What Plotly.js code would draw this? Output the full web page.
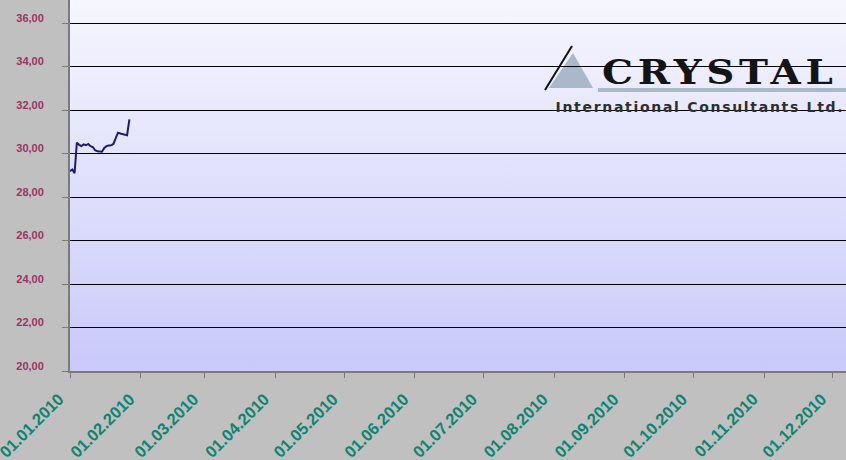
<!DOCTYPE html>
<html><head><meta charset="utf-8">
<script src="https://cdn.plot.ly/plotly-3.0.1.min.js"></script>
<style>
html,body{margin:0;padding:0;background:#c0c0c0;}
#chart{width:846px;height:460px;background:linear-gradient(to bottom,#f6f6fe,#c9c9fa) 70px 0/776px 371px no-repeat,#c0c0c0;}
g.annotation[data-index="0"] text{letter-spacing:4px;transform-box:fill-box;transform-origin:center;transform:scaleX(1.18);}
g.annotation[data-index="1"] text{letter-spacing:1.7px;}
</style></head><body><div id="chart"></div><script>
// Daily rate, January 2010
const dates = ['2010-01-01','2010-01-02','2010-01-03','2010-01-04','2010-01-05','2010-01-06','2010-01-07','2010-01-08','2010-01-09','2010-01-10','2010-01-11','2010-01-12','2010-01-13','2010-01-14','2010-01-15','2010-01-16','2010-01-17','2010-01-18','2010-01-19','2010-01-20','2010-01-21','2010-01-22','2010-01-23','2010-01-24','2010-01-25','2010-01-26','2010-01-27'];
const rates = [29.18,29.27,29.10,30.50,30.40,30.34,30.42,30.38,30.44,30.34,30.30,30.15,30.10,30.10,30.08,30.26,30.34,30.37,30.38,30.44,30.68,30.96,30.92,30.89,30.87,30.84,31.57];

const xTickVals = ['2010-01-01','2010-02-01','2010-03-01','2010-04-01','2010-05-01','2010-06-01','2010-07-01','2010-08-01','2010-09-01','2010-10-01','2010-11-01','2010-12-01'];
const xTickLabels = ['01.01.2010','01.02.2010','01.03.2010','01.04.2010','01.05.2010','01.06.2010','01.07.2010','01.08.2010','01.09.2010','01.10.2010','01.11.2010','01.12.2010'];
const yTickVals = [20,22,24,26,28,30,32,34,36];
const yTickLabels = ['20,00','22,00','24,00','26,00','28,00','30,00','32,00','34,00','36,00'];

const logoTitle = 'CRYSTAL';
const logoSubtitle = 'International Consultants Ltd.';

// plot-area pixel -> paper helpers (plot area: x 70..846, y 0..371)
const PX0 = 70, PW = 776, PH = 371;
const px = x => (x - PX0) / PW;
const py = y => (PH - y) / PH;

const trace = {
  x: dates, y: rates, type: 'scatter', mode: 'lines',
  line: {color: '#1c1c6e', width: 2},
  hoverinfo: 'skip'
};

const layout = {
  width: 846, height: 460,
  margin: {l: 70, r: 0, t: 0, b: 89, pad: 0},
  paper_bgcolor: 'rgba(0,0,0,0)',
  plot_bgcolor: 'rgba(0,0,0,0)',
  showlegend: false,
  font: {family: 'Liberation Sans, Arial, sans-serif'},
  xaxis: {
    type: 'date',
    range: ['2010-01-01', '2010-12-06 19:00'],
    tickmode: 'array', tickvals: xTickVals, ticktext: xTickLabels,
    tickangle: -45,
    tickfont: {size: 16.5, color: '#0f8474', weight: 'bold', family: 'Liberation Sans, Arial, sans-serif'},
    ticks: 'outside', ticklen: 5, tickcolor: '#7a7a7a', tickwidth: 1,
    showgrid: false, zeroline: false,
    showline: true, linecolor: '#7a7a7a', linewidth: 2,
    ticklabelstandoff: 5,
    ticklabelshift: -11,
    ticklabeloverflow: 'allow'
  },
  yaxis: {
    range: [20, 37.06],
    tickmode: 'array', tickvals: yTickVals, ticktext: yTickLabels,
    tickfont: {size: 11, color: '#993366', weight: 'bold', family: 'Liberation Sans, Arial, sans-serif'},
    ticks: 'outside', ticklen: 6, tickcolor: '#7a7a7a', tickwidth: 1,
    showgrid: true, gridcolor: '#000000', gridwidth: 1,
    zeroline: false,
    showline: true, linecolor: '#7a7a7a', linewidth: 2,
    ticklabelstandoff: 16,
    ticklabelshift: -5
  },
  shapes: [
    {type: 'path', xref: 'paper', yref: 'paper', layer: 'below',
     path: `M ${px(549)} ${py(88)} L ${px(573)} ${py(53)} L ${px(593)} ${py(88)} Z`,
     fillcolor: '#a9b9cb', line: {width: 0}},
    {type: 'line', xref: 'paper', yref: 'paper', layer: 'below',
     x0: px(545), y0: py(90), x1: px(572), y1: py(46),
     line: {color: '#111111', width: 2}},
    {type: 'rect', xref: 'paper', yref: 'paper', layer: 'below',
     x0: px(598), y0: py(92), x1: px(846), y1: py(88),
     fillcolor: '#a9b9cb', line: {width: 0}}
  ],
  annotations: [
    {text: logoTitle, xref: 'paper', yref: 'paper', x: px(720), y: py(72),
     xanchor: 'center', yanchor: 'middle', showarrow: false,
     font: {family: 'DejaVu Serif, serif', size: 33, color: '#141414', weight: 'bold'}},
    {text: logoSubtitle, xref: 'paper', yref: 'paper', x: px(700), y: py(107),
     xanchor: 'center', yanchor: 'middle', showarrow: false,
     font: {family: 'DejaVu Sans, sans-serif', size: 14, color: '#2e2e2e', weight: 'bold'}}
  ]
};

Plotly.newPlot('chart', [trace], layout, {displayModeBar: false, staticPlot: true});
</script></body></html>
